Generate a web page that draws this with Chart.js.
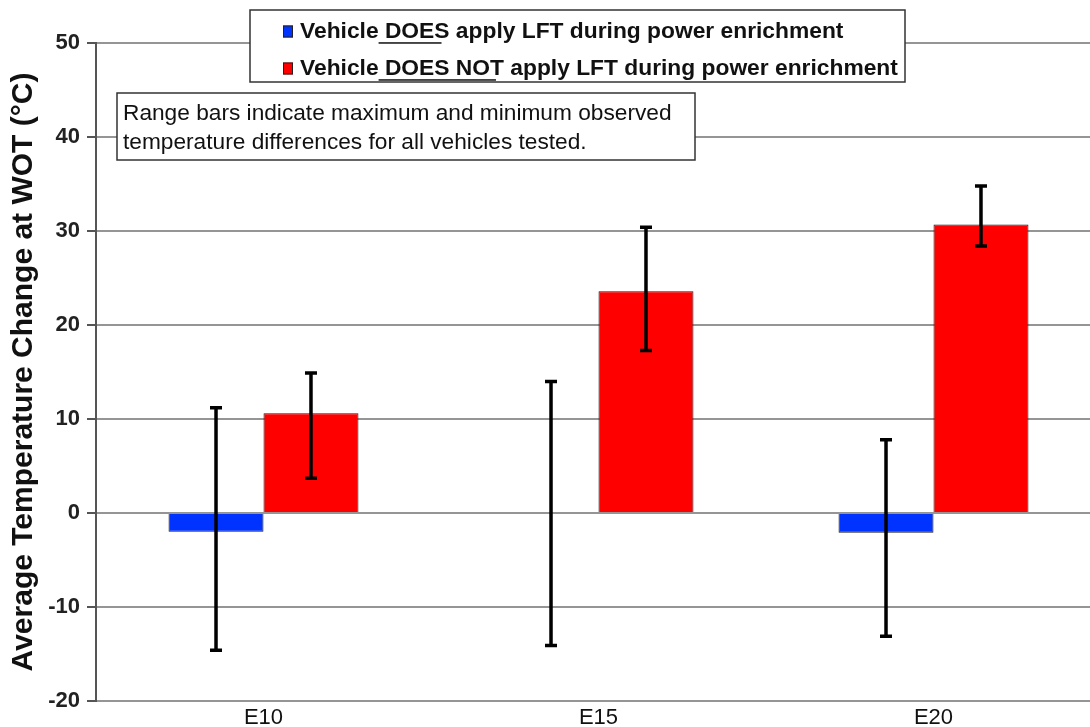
<!DOCTYPE html>
<html>
<head>
<meta charset="utf-8">
<script src="https://cdn.jsdelivr.net/npm/chart.js@4.4.1/dist/chart.umd.min.js"></script>
<style>
  html, body { margin: 0; padding: 0; background: #fff; overflow: hidden; }
  #wrap { width: 1102px; height: 727px; }
</style>
</head>
<body>
<div id="wrap"><canvas id="chart" width="1102" height="727"></canvas></div>
<script>
// Fuel blends on the x axis
const categories = ['E10', 'E15', 'E20'];

// Legend wording, split so the middle part can be underlined
const legendParts = [
  ['Vehicle', ' DOES', ' apply LFT during power enrichment'],
  ['Vehicle', ' DOES NOT', ' apply LFT during power enrichment']
];

// Average temperature change at WOT (°C)
const doesApply = [-2.0, 0, -2.1];
const doesNotApply = [10.6, 23.6, 30.7];

// Range bars: maximum and minimum observed differences
const doesApplyMax = [11.2, 14.0, 7.8];
const doesApplyMin = [-14.6, -14.1, -13.1];
const doesNotApplyMax = [14.9, 30.4, 34.8];
const doesNotApplyMin = [3.7, 17.3, 28.4];

// Value axis
const yTicks = [-20, -10, 0, 10, 20, 30, 40, 50];

const noteLines = [
  'Range bars indicate maximum and minimum observed',
  'temperature differences for all vehicles tested.'
];

const FONT = '"Liberation Sans", Arial, sans-serif';

// Draws the max/min range bar over each bar
const rangeBars = {
  id: 'rangeBars',
  afterDatasetsDraw(chart) {
    const ctx = chart.ctx;
    const y = chart.scales.y;
    chart.data.datasets.forEach((ds, i) => {
      const meta = chart.getDatasetMeta(i);
      meta.data.forEach((bar, j) => {
        const hi = y.getPixelForValue(ds.rangeMax[j]);
        const lo = y.getPixelForValue(ds.rangeMin[j]);
        const x = bar.x;
        ctx.save();
        ctx.strokeStyle = '#000';
        ctx.lineWidth = 3.5;
        ctx.beginPath();
        ctx.moveTo(x, hi);
        ctx.lineTo(x, lo);
        ctx.moveTo(x - 6, hi);
        ctx.lineTo(x + 6, hi);
        ctx.moveTo(x - 6, lo);
        ctx.lineTo(x + 6, lo);
        ctx.stroke();
        ctx.restore();
      });
    });
  }
};

// Boxed legend with underlined qualifier, and the note box
const boxes = {
  id: 'boxes',
  afterDraw(chart, args, opts) {
    const ctx = chart.ctx;
    ctx.save();
    // legend box
    const L = opts.legend;
    ctx.fillStyle = '#fff';
    ctx.fillRect(L.x, L.y, L.w, L.h);
    ctx.strokeStyle = '#333';
    ctx.lineWidth = 1.5;
    ctx.strokeRect(L.x, L.y, L.w, L.h);
    ctx.font = 'bold ' + L.size + 'px ' + FONT;
    ctx.textBaseline = 'middle';
    chart.data.datasets.forEach((ds, i) => {
      const ry = L.y + L.rowTop + i * L.rowGap;
      ctx.fillStyle = ds.backgroundColor;
      ctx.fillRect(L.x + L.swatchX, ry - 6, 10, 12);
      ctx.strokeStyle = '#222';
      ctx.lineWidth = 1;
      ctx.strokeRect(L.x + L.swatchX + 0.5, ry - 5.5, 9, 11);
      ctx.fillStyle = '#111';
      let tx = L.x + L.textX;
      const parts = legendParts[i];
      parts.forEach((p, k) => {
        ctx.fillText(p, tx, ry);
        const w = ctx.measureText(p).width;
        if (k === 1) {
          ctx.fillRect(tx, ry + L.size * 0.47, w - 8, 1.5);
        }
        tx += w;
      });
    });
    // note box
    const N = opts.note;
    ctx.fillStyle = '#fff';
    ctx.fillRect(N.x, N.y, N.w, N.h);
    ctx.strokeStyle = '#333';
    ctx.lineWidth = 1.5;
    ctx.strokeRect(N.x, N.y, N.w, N.h);
    ctx.font = N.size + 'px ' + FONT;
    ctx.fillStyle = '#111';
    ctx.textBaseline = 'middle';
    noteLines.forEach((t, i) => {
      ctx.fillText(t, N.x + N.pad, N.y + N.lineTop + i * N.lineGap);
    });
    ctx.restore();
  }
};

new Chart(document.getElementById('chart'), {
  type: 'bar',
  data: {
    labels: categories,
    datasets: [
      {
        label: legendParts[0].join(''),
        data: doesApply,
        rangeMax: doesApplyMax,
        rangeMin: doesApplyMin,
        backgroundColor: '#0033ff',
        borderColor: '#1a1a1a',
        borderWidth: 1
      },
      {
        label: legendParts[1].join(''),
        data: doesNotApply,
        rangeMax: doesNotApplyMax,
        rangeMin: doesNotApplyMin,
        backgroundColor: '#ff0000',
        borderColor: '#1a1a1a',
        borderWidth: 1
      }
    ]
  },
  options: {
    responsive: false,
    animation: false,
    layout: { padding: { top: 43, right: 1, bottom: 0, left: 0 } },
    categoryPercentage: 0.567,
    barPercentage: 1.0,
    plugins: {
      legend: { display: false },
      tooltip: { enabled: false },
      boxes: {
        legend: { x: 250, y: 10, w: 655, h: 72, size: 22.8, rowTop: 21.5, rowGap: 37, swatchX: 33, textX: 50 },
        note: { x: 117, y: 93, w: 578, h: 67, size: 22.7, pad: 6, lineTop: 20.5, lineGap: 29 }
      }
    },
    scales: {
      x: {
        grid: { display: false, drawTicks: false },
        border: { display: false },
        ticks: {
          color: '#111',
          padding: 4,
          font: { family: FONT, size: 22 }
        },
        afterFit(s) { s.height = 26; }
      },
      y: {
        min: -20,
        max: 50,
        afterBuildTicks(s) { s.ticks = yTicks.map(v => ({ value: v })); },
        grid: {
          color: '#959595',
          lineWidth: 2,
          tickLength: 9,
          tickColor: '#555'
        },
        border: { color: '#555', width: 2 },
        ticks: {
          color: '#222',
          padding: 7,
          font: { family: FONT, size: 22, weight: 'bold' }
        },
        title: {
          display: true,
          text: 'Average Temperature Change at WOT (°C)',
          color: '#111',
          padding: { top: 6, bottom: 0 },
          font: { family: FONT, size: 30, weight: 'bold' }
        },
        afterFit(s) { s.width = 96; }
      }
    }
  },
  plugins: [rangeBars, boxes]
});
</script>
</body>
</html>
